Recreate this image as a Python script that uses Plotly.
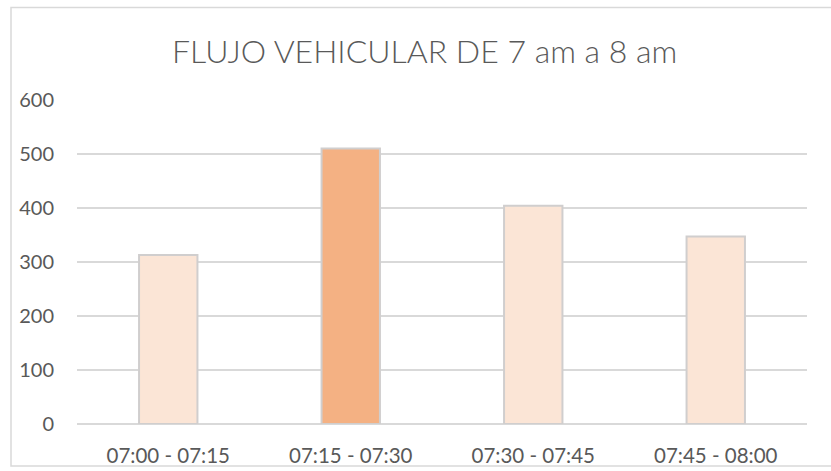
import plotly.graph_objects as go

# Vehicle counts per 15-minute interval
intervals = ["07:00 - 07:15", "07:15 - 07:30", "07:30 - 07:45", "07:45 - 08:00"]
vehicles = [313, 510, 404, 347]
bar_colors = ["#FBE5D6", "#F4B183", "#FBE5D6", "#FBE5D6"]

y_ticks = [0, 100, 200, 300, 400, 500, 600]

text_color = "#595959"
grid_color = "#D9D9D9"
font_family = "Lato"

fig = go.Figure(
    go.Bar(
        x=intervals,
        y=vehicles,
        marker=dict(color=bar_colors, line=dict(color="#D0CECE", width=2)),
        hoverinfo="x+y",
    )
)

fig.update_layout(
    width=831,
    height=471,
    margin=dict(l=77, r=24, t=100, b=47),
    paper_bgcolor="white",
    plot_bgcolor="white",
    bargap=0.68,
    showlegend=False,
    font=dict(family=font_family, color=text_color),
    title=dict(
        text="FLUJO VEHICULAR DE 7 am a 8 am",
        x=0.511,
        xanchor="center",
        y=1 - 52 / 471,
        yanchor="middle",
        font=dict(family=font_family, size=32, color=text_color, weight=300),
    ),
)

fig.update_yaxes(
    range=[0, 600],
    tickvals=y_ticks,
    automargin=False,
    showgrid=True,
    gridcolor=grid_color,
    gridwidth=1.5,
    zeroline=True,
    zerolinecolor=grid_color,
    zerolinewidth=1.5,
    showline=False,
    ticks="",
    ticklabelstandoff=22,
    tickfont=dict(family=font_family, size=20, color=text_color),
)

fig.update_xaxes(
    automargin=False,
    showgrid=False,
    showline=False,
    ticks="",
    ticklabelstandoff=17,
    tickfont=dict(family=font_family, size=20.5, color=text_color),
)

# Light frame around the whole chart
fig.add_shape(
    type="rect",
    xref="paper",
    yref="paper",
    x0=(11 - 77) / 730,
    x1=(850 - 77) / 730,
    y0=(424 - 466) / 324,
    y1=(424 - 7.5) / 324,
    line=dict(color=grid_color, width=1.5),
    fillcolor="rgba(0,0,0,0)",
    layer="below",
)

fig.write_html("out.html")
